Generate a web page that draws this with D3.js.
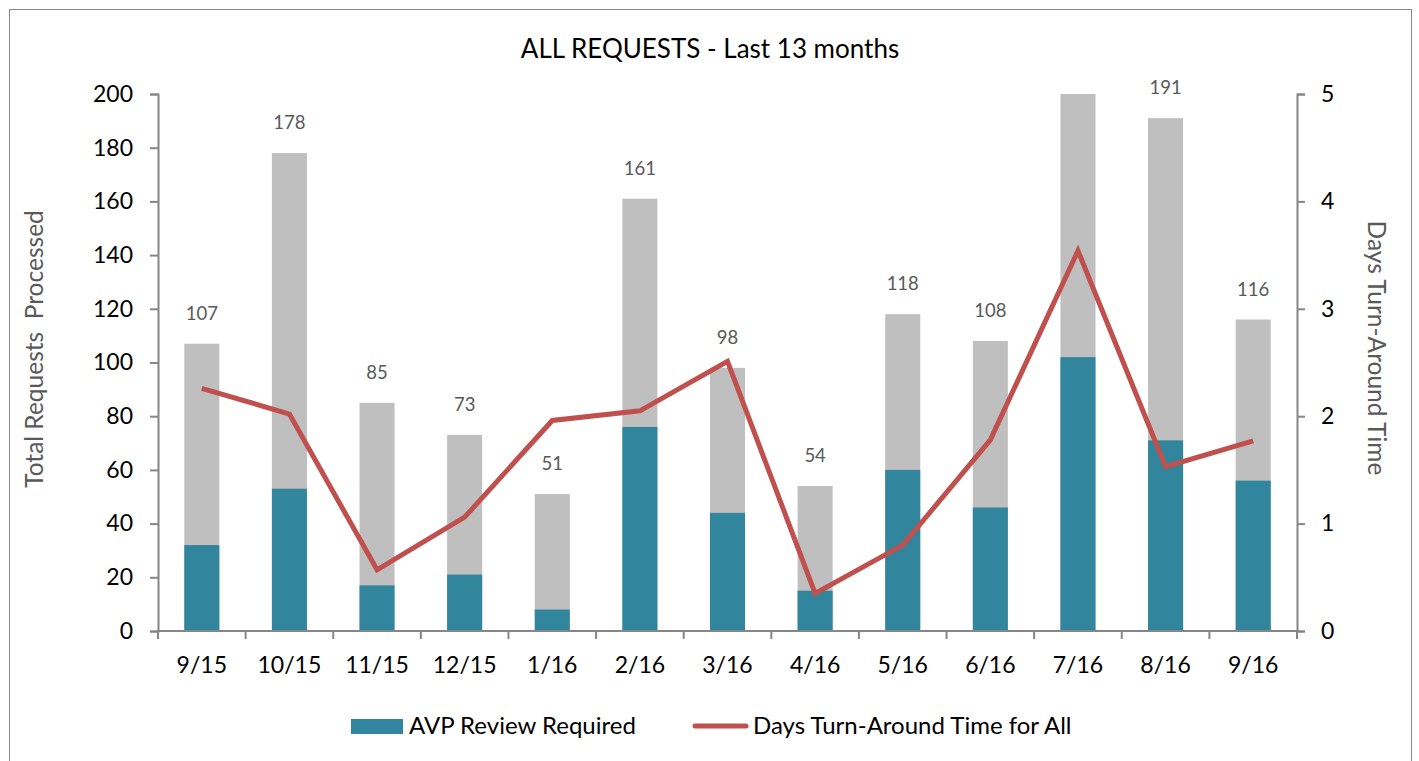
<!DOCTYPE html>
<meta charset="utf-8">
<head>
<script src="https://d3js.org/d3.v7.min.js"></script>
<style>
  body { margin: 0; background: #fff; font-family: Lato, "Open Sans", sans-serif; }
</style>
</head>
<body>
<div id="chart"></div>
<script>
// data
var months = ["9/15","10/15","11/15","12/15","1/16","2/16","3/16","4/16","5/16","6/16","7/16","8/16","9/16"];
var totalRequests = [107, 178, 85, 73, 51, 161, 98, 54, 118, 108, 200, 191, 116];
var avpReview = [32, 53, 17, 21, 8, 76, 44, 15, 60, 46, 102, 71, 56];
var turnAround = [2.26, 2.02, 0.57, 1.06, 1.96, 2.05, 2.51, 0.35, 0.80, 1.78, 3.54, 1.53, 1.77];
var leftTicks = [0, 20, 40, 60, 80, 100, 120, 140, 160, 180, 200];
var rightTicks = [0, 1, 2, 3, 4, 5];

var W = 1419, H = 761;
var margin = {top: 94, right: 122, bottom: 130, left: 158},
    width = W - margin.left - margin.right,
    height = H - margin.top - margin.bottom;

var svg = d3.select("#chart").append("svg")
    .attr("width", W).attr("height", H);

// outer frame
svg.append("rect")
  .attr("x", 9.5).attr("y", 9.5)
  .attr("width", 1402).attr("height", 770)
  .attr("fill", "none").attr("stroke", "#878787").attr("stroke-width", 1);

svg.append("text")
  .attr("x", 710).attr("y", 58)
  .attr("text-anchor", "middle")
  .style("font-size", "26px").attr("fill", "#000")
  .text("ALL REQUESTS - Last 13 months");

var g = svg.append("g")
  .attr("transform", "translate(" + margin.left + "," + margin.top + ")");

var x = d3.scaleBand().domain(months).range([0, width]).paddingInner(0.6).paddingOuter(0.3);
var xc = function(i) { return x(months[i]) + x.bandwidth() / 2; };
var y = d3.scaleLinear().domain([0, 200]).range([height, 0]);
var y2 = d3.scaleLinear().domain([0, 5]).range([height, 0]);

g.append("clipPath").attr("id", "plot")
  .append("rect").attr("x", 0).attr("y", -2).attr("width", width).attr("height", height + 2);

var bars = g.append("g").attr("clip-path", "url(#plot)");

// total bars (gray)
bars.selectAll(".tot")
  .data(totalRequests)
  .enter().append("rect")
  .attr("x", function(d, i) { return x(months[i]); })
  .attr("y", function(d) { return y(d); })
  .attr("width", x.bandwidth())
  .attr("height", function(d) { return height - y(d); })
  .attr("fill", "#bfbfbf");

// AVP bars (teal)
bars.selectAll(".avp")
  .data(avpReview)
  .enter().append("rect")
  .attr("x", function(d, i) { return x(months[i]); })
  .attr("y", function(d) { return y(d); })
  .attr("width", x.bandwidth())
  .attr("height", function(d) { return height - y(d); })
  .attr("fill", "#31859c");

// labels over total bars (hidden when bar runs off the top)
g.selectAll(".lbl")
  .data(totalRequests)
  .enter().filter(function(d) { return d < 200; })
  .append("text")
  .attr("x", function(d) { return xc(totalRequests.indexOf(d)); })
  .attr("y", function(d) { return y(d) - 24; })
  .attr("text-anchor", "middle")
  .style("font-size", "18.5px").attr("fill", "#595959")
  .text(function(d) { return d; });

// axes
var axisColor = "#868686";
var xAxis = g.append("g").attr("transform", "translate(0," + height + ")");
xAxis.append("line").attr("x1", 0).attr("x2", width).attr("y1", 0).attr("y2", 0)
  .attr("stroke", axisColor).attr("stroke-width", 2);
var step = width / months.length;
xAxis.selectAll(".xt").data(d3.range(months.length + 1)).enter().append("line")
  .attr("x1", function(d) { return d * step; }).attr("x2", function(d) { return d * step; })
  .attr("y1", 0).attr("y2", 8).attr("stroke", axisColor).attr("stroke-width", 2);
xAxis.selectAll(".xl").data(months).enter().append("text")
  .attr("x", function(d, i) { return xc(i); }).attr("y", 42)
  .attr("text-anchor", "middle")
  .style("font-size", "23px").attr("fill", "#000")
  .text(function(d) { return d; });

var yAxis = g.append("g")
  .call(d3.axisLeft(y).tickValues(leftTicks).tickSize(8).tickPadding(17));
var y2Axis = g.append("g").attr("transform", "translate(" + width + ",0)")
  .call(d3.axisRight(y2).tickValues(rightTicks).tickSize(8).tickPadding(16).tickFormat(d3.format("d")));

[yAxis, y2Axis].forEach(function(a) {
  a.select(".domain").attr("stroke", axisColor).attr("stroke-width", 2);
  a.selectAll(".tick line").attr("stroke", axisColor).attr("stroke-width", 2);
  a.selectAll(".tick text").style("font-size", "23px").style("font-family", "Lato, 'Open Sans', sans-serif").attr("fill", "#000");
});

// turn-around line
var line = d3.line()
  .x(function(d, i) { return xc(i); })
  .y(function(d) { return y2(d); });
g.append("path")
  .datum(turnAround)
  .attr("d", line)
  .attr("fill", "none")
  .attr("stroke", "#c0504d")
  .attr("stroke-width", 5)
  .attr("stroke-linejoin", "miter");

// axis titles
svg.append("text")
  .attr("transform", "translate(43,349) rotate(-90)")
  .attr("text-anchor", "middle")
  .style("font-size", "24.5px").attr("fill", "#595959")
  .style("white-space", "pre")
  .text("Total Requests  Processed");
svg.append("text")
  .attr("transform", "translate(1368,348) rotate(90)")
  .attr("text-anchor", "middle")
  .style("font-size", "24.5px").attr("fill", "#595959")
  .text("Days Turn-Around Time");

// legend
var lg = svg.append("g");
lg.append("rect").attr("x", 351).attr("y", 719).attr("width", 52).attr("height", 15).attr("fill", "#31859c");
lg.append("text").attr("x", 409).attr("y", 734).style("font-size", "24px").attr("fill", "#000")
  .text("AVP Review Required");
lg.append("line").attr("x1", 695).attr("x2", 746).attr("y1", 726).attr("y2", 726)
  .attr("stroke", "#c0504d").attr("stroke-width", 5).attr("stroke-linecap", "round");
lg.append("text").attr("x", 753).attr("y", 734).style("font-size", "24px").attr("fill", "#000")
  .text("Days Turn-Around Time for All");
</script>
</body>
